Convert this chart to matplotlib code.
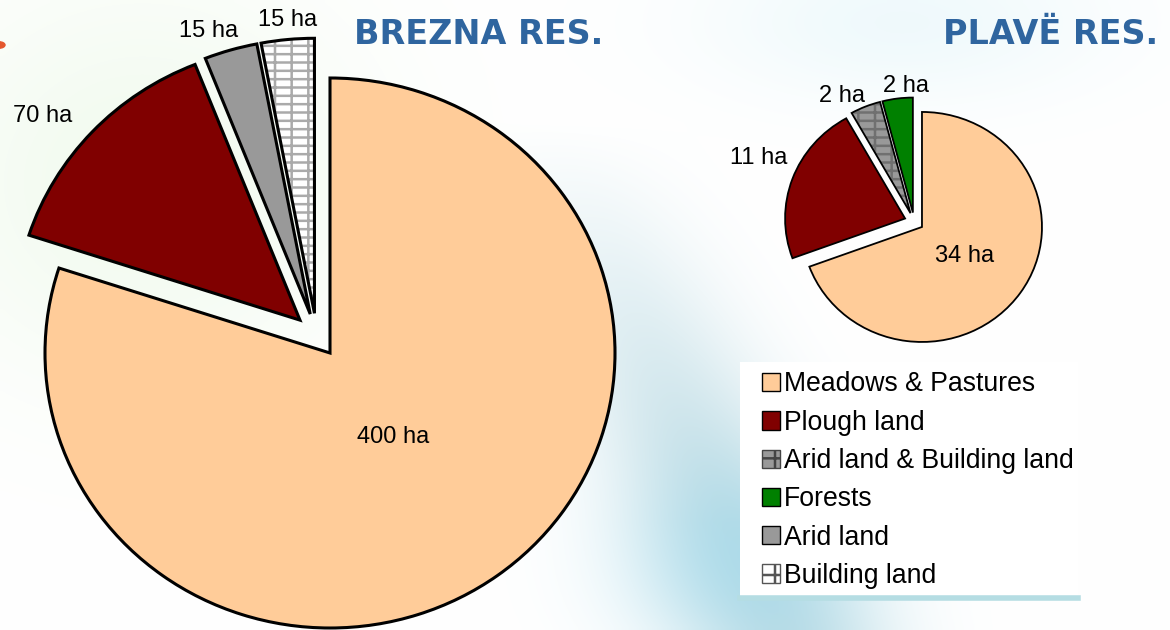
import numpy as np
import matplotlib
matplotlib.use("Agg")
import matplotlib.pyplot as plt
from matplotlib.patches import Patch, Wedge, Circle, Rectangle
from matplotlib.lines import Line2D

plt.rcParams["font.family"] = ["Liberation Sans", "DejaVu Sans"]
plt.rcParams["hatch.linewidth"] = 1.8

# data
brezna_labels = ["Meadows & Pastures", "Plough land", "Arid land", "Building land"]
brezna_ha = [400, 70, 15, 15]
plave_labels = ["Meadows & Pastures", "Plough land", "Arid land & Building land", "Forests"]
plave_ha = [34, 11, 2, 2]

legend_labels = ["Meadows & Pastures", "Plough land", "Arid land & Building land",
                 "Forests", "Arid land", "Building land"]

# styles
PEACH, MAROON, GREY, GREEN = "#FFCC99", "#800000", "#999999", "#008000"
brezna_colors = [PEACH, MAROON, GREY, "white"]
brezna_hatch = [None, None, None, "+-"]
brezna_hatch_col = [None, None, None, "#AAAAAA"]
plave_colors = [PEACH, MAROON, GREY, GREEN]
plave_hatch = [None, None, "+-", None]
plave_hatch_col = [None, None, "#707070", None]

# label placement (radius from pie centre, angle nudge in degrees)
brezna_lab_r = [0.457, 1.25, 1.17, 1.15]
brezna_lab_da = [0, 3.5, 2.7, -0.4]
plave_lab_r = [0.514, 1.41, 1.25, 1.18]
plave_lab_da = [0, -3, 6.8, -4]

W, H = 1170, 630
fig = plt.figure(figsize=(W / 100, H / 100), dpi=100)

# soft background
bg = fig.add_axes([0, 0, 1, 1], zorder=-10)
yy, xx = np.mgrid[0:H:5, 0:W:5]
d = (xx - 560) * 0.91 - (yy - 150) * 0.42
band = np.exp(-((d) / 90.0) ** 2) * np.clip((yy - 120) / 400.0, 0, 1)
spot = np.exp(-(((xx - 740) / 120.0) ** 2 + ((yy - 560) / 90.0) ** 2))
green = np.exp(-(((xx - 140) / 220.0) ** 2 + ((yy - 180) / 200.0) ** 2))
top_r = np.exp(-(((xx - 900) / 200.0) ** 2 + ((yy - 20) / 80.0) ** 2))
img = np.ones(xx.shape + (3,))
teal = np.array([0.55, 0.76, 0.82])
img = img * (1 - 0.55 * band[..., None]) + teal * 0.55 * band[..., None]
img = img * (1 - 0.45 * spot[..., None]) + np.array([0.6, 0.85, 0.93]) * 0.45 * spot[..., None]
img = img * (1 - 0.35 * green[..., None]) + np.array([0.85, 0.95, 0.82]) * 0.35 * green[..., None]
img = img * (1 - 0.3 * top_r[..., None]) + np.array([0.8, 0.93, 0.96]) * 0.3 * top_r[..., None]
bg.imshow(img, extent=[0, W, H, 0], aspect="auto", interpolation="bilinear")
bg.set_xlim(0, W)
bg.set_ylim(H, 0)
bg.axis("off")


def pie_axes(cx, cy, rx, ry, L=1.35):
    ax = fig.add_axes([(cx - L * rx) / W, (H - cy - L * ry) / H,
                       2 * L * rx / W, 2 * L * ry / H])
    return ax, L


def draw_pie(ax, L, values, colors, hatches, hatch_cols, lab_r, lab_da, lw):
    wedges, _ = ax.pie(values, colors=colors, startangle=90, counterclock=False,
                       explode=[0.08] * len(values),
                       wedgeprops=dict(edgecolor="black", linewidth=lw))
    for w, h, hc in zip(wedges, hatches, hatch_cols):
        if h:
            w.set_hatch(h)
            w.set_edgecolor(hc)
            w.set_linewidth(0)
            ax.add_patch(Wedge(w.center, w.r, w.theta1, w.theta2, fill=False,
                               edgecolor="black", linewidth=lw))
    for w, v, r, da in zip(wedges, values, lab_r, lab_da):
        a = np.deg2rad((w.theta1 + w.theta2) / 2 + da)
        ax.text(r * np.cos(a), r * np.sin(a), f"{v} ha", ha="center", va="center",
                fontsize=17)
    ax.set_aspect("auto")
    ax.set_xlim(-L, L)
    ax.set_ylim(-L, L)
    ax.axis("off")


ax1, L1 = pie_axes(316.6, 335.2, 285, 275)
draw_pie(ax1, L1, brezna_ha, brezna_colors, brezna_hatch, brezna_hatch_col,
         brezna_lab_r, brezna_lab_da, 2.2)

ax2, L2 = pie_axes(914.1, 221.7, 120, 115)
draw_pie(ax2, L2, plave_ha, plave_colors, plave_hatch, plave_hatch_col,
         plave_lab_r, plave_lab_da, 1.3)

# titles
fig.text(479 / W, 1 - 44.3 / H, "BREZNA RES.", ha="center", va="baseline", fontsize=24,
         fontweight="bold", color="#2F659F", family="DejaVu Sans")
fig.text(1051 / W, 1 - 44.3 / H, "PLAVË RES.", ha="center", va="baseline", fontsize=24,
         fontweight="bold", color="#2F659F", family="DejaVu Sans")

# orange bullet
fig.add_artist(Circle((-1 / W, 1 - 45 / H), 6 / W, transform=fig.transFigure,
                      color="#E4572E"))

# legend box
fig.add_artist(Rectangle((740 / W, 1 - 598 / H), 338 / W, 236 / H,
                         transform=fig.transFigure, facecolor="white", edgecolor="none",
                         zorder=2))
fig.add_artist(Line2D([740 / W, 1078 / W], [1 - 598 / H, 1 - 598 / H],
                      transform=fig.transFigure, color="#B5DDE3", linewidth=4, zorder=3))

handles = [
    Patch(facecolor=PEACH, edgecolor="black"),
    Patch(facecolor=MAROON, edgecolor="black"),
    Patch(facecolor=GREY, edgecolor="#444444", hatch="+"),
    Patch(facecolor=GREEN, edgecolor="black"),
    Patch(facecolor=GREY, edgecolor="black"),
    Patch(facecolor="white", edgecolor="#555555", hatch="+"),
]
leg = fig.legend(handles, legend_labels, loc="upper left",
                 bbox_to_anchor=(754 / W, 1 - 363.5 / H), frameon=False, fontsize=19.2,
                 handlelength=0.68, handleheight=0.68, handletextpad=0.15,
                 labelspacing=0.46, borderpad=0.3, borderaxespad=0)
leg.set_zorder(5)

fig.savefig("out.png", dpi=100)
